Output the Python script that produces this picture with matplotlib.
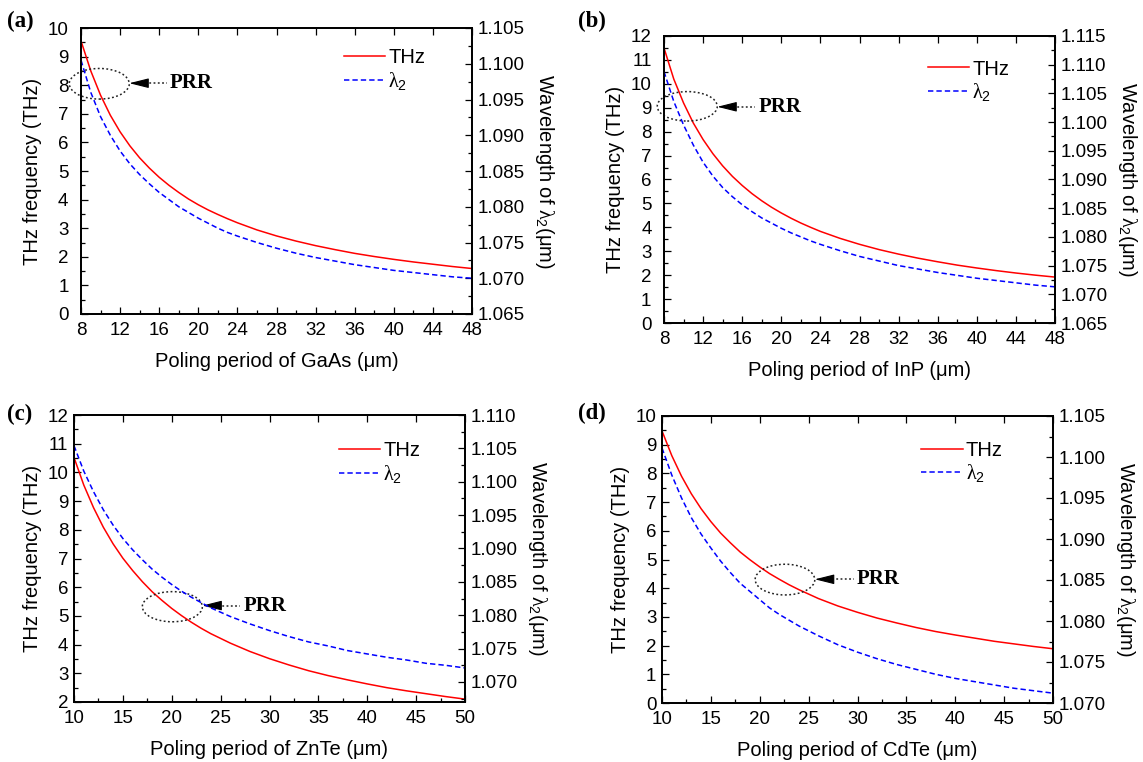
import matplotlib
matplotlib.use('Agg')
import matplotlib.pyplot as plt
from matplotlib.patches import Ellipse
from matplotlib.ticker import MultipleLocator, AutoMinorLocator, FormatStrFormatter

plt.rcParams['font.family'] = ['Liberation Sans', 'DejaVu Sans']
plt.rcParams['mathtext.fontset'] = 'custom'
plt.rcParams['mathtext.rm'] = 'Liberation Sans'
plt.rcParams['mathtext.it'] = 'Liberation Serif'
plt.rcParams['mathtext.bf'] = 'Liberation Sans:bold'

# ---------------- data ----------------
period_ab = [8, 9, 10, 11, 12, 13, 14, 15, 16, 17, 18, 19, 20, 21, 22, 23, 24,
             26, 28, 30, 32, 34, 36, 38, 40, 42, 44, 46, 48]
gaas_thz = [9.55, 8.50, 7.65, 6.95, 6.37, 5.88, 5.46, 5.10, 4.78, 4.50, 4.25, 4.02, 3.82, 3.64,
            3.48, 3.33, 3.19,
            2.94, 2.73, 2.55, 2.39, 2.25, 2.12, 2.01, 1.91, 1.82, 1.74, 1.66, 1.59]
gaas_lambda2 = [1.1005, 1.0960, 1.0926, 1.0900, 1.0878, 1.0860, 1.0845, 1.0832, 1.0820, 1.0810,
                1.0800, 1.0792, 1.0784, 1.0777, 1.0770, 1.0764, 1.0759,
                1.0750, 1.0742, 1.0735, 1.0729, 1.0724, 1.0719, 1.0715, 1.0711, 1.0708,
                1.0705, 1.0702, 1.0700]
inp_thz = [11.5, 10.2, 9.2, 8.36, 7.67, 7.08, 6.57, 6.13, 5.75, 5.41, 5.11, 4.84, 4.60, 4.38,
           4.18, 4.00, 3.83,
           3.54, 3.29, 3.07, 2.88, 2.71, 2.56, 2.42, 2.30, 2.19, 2.09, 2.00, 1.92]
inp_lambda2 = [1.1088, 1.1036, 1.0995, 1.0960, 1.0930, 1.0906, 1.0886, 1.0870, 1.0856, 1.0844,
               1.0833, 1.0824, 1.0815, 1.0807, 1.0800, 1.0793, 1.0787,
               1.0776, 1.0766, 1.0758, 1.0750, 1.0744, 1.0738, 1.0733, 1.0728, 1.0724,
               1.0720, 1.0716, 1.0713]

period_cd = [10, 11, 12, 13, 14, 15, 16, 17, 18, 19, 20, 21, 22, 23, 24,
             26, 28, 30, 32, 34, 36, 38, 40, 42, 44, 46, 48, 50]
znte_thz = [10.52, 9.56, 8.77, 8.09, 7.51, 7.01, 6.58, 6.19, 5.84, 5.54, 5.26, 5.01, 4.78, 4.57,
            4.38,
            4.05, 3.76, 3.51, 3.29, 3.09, 2.92, 2.77, 2.63, 2.50, 2.39, 2.29, 2.19, 2.10]
znte_lambda2 = [1.1054, 1.1016, 1.0985, 1.0958, 1.0935, 1.0915, 1.0898, 1.0883, 1.0869, 1.0857,
                1.0846, 1.0836, 1.0827, 1.0819, 1.0811,
                1.0798, 1.0787, 1.0777, 1.0768, 1.0760, 1.0754, 1.0747, 1.0742, 1.0737,
                1.0733, 1.0728, 1.0725, 1.0721]
cdte_thz = [9.48, 8.62, 7.90, 7.29, 6.77, 6.32, 5.92, 5.58, 5.26, 4.99, 4.74, 4.51, 4.31, 4.12,
            3.95,
            3.64, 3.38, 3.16, 2.96, 2.79, 2.63, 2.49, 2.37, 2.26, 2.15, 2.06, 1.97, 1.89]
cdte_lambda2 = [1.1011, 1.0978, 1.0950, 1.0926, 1.0906, 1.0889, 1.0873, 1.0859, 1.0846, 1.0836,
                1.0826, 1.0816, 1.0808, 1.0801, 1.0794,
                1.0782, 1.0771, 1.0762, 1.0754, 1.0747, 1.0741, 1.0735, 1.0730, 1.0726,
                1.0722, 1.0718, 1.0715, 1.0712]

materials = ['GaAs', 'InP', 'ZnTe', 'CdTe']
panel_tags = ['(a)', '(b)', '(c)', '(d)']
legend_labels = ['THz', r'$\lambda_2$']
left_label = 'THz frequency (THz)'
right_label = r'Wavelength of $\lambda_2$(μm)'
annot_text = 'PRR'

W, H = 1143, 762
FS = 13.5
LFS = 14.5

panels = [
    dict(x=period_ab, thz=gaas_thz, lam=gaas_lambda2, rect=(81, 28, 472, 314),
         xlim=(8, 48), xstep=4, ylim=(0, 10), rlim=(1.065, 1.105),
         leg=(0.673, 0.929), ell=(9.87, 8.05, 6.14, 1.07), arr=(8.07, 12.94, 14.55, 16.83, 17.1),
         tag=(7, 11), lpad=9),
    dict(x=period_ab, thz=inp_thz, lam=inp_lambda2, rect=(664, 36, 1055, 323),
         xlim=(8, 48), xstep=4, ylim=(0, 12), rlim=(1.065, 1.115),
         leg=(0.675, 0.918), ell=(10.38, 9.06, 6.14, 1.23), arr=(9.04, 13.45, 15.09, 17.31, 17.65),
         tag=(578, 11), lpad=9),
    dict(x=period_cd, thz=znte_thz, lam=znte_lambda2, rect=(74, 415, 465, 702),
         xlim=(10, 50), xstep=5, ylim=(2, 12), rlim=(1.067, 1.110),
         leg=(0.677, 0.908), ell=(20.06, 5.32, 6.14, 1.05), arr=(5.36, 23.13, 24.76, 26.98, 27.32),
         tag=(7, 404), lpad=4),
    dict(x=period_cd, thz=cdte_thz, lam=cdte_lambda2, rect=(662, 416, 1053, 703),
         xlim=(10, 50), xstep=5, ylim=(0, 10), rlim=(1.070, 1.105),
         leg=(0.663, 0.914), ell=(22.58, 4.30, 6.1, 1.07), arr=(4.31, 25.63, 27.39, 29.63, 29.9),
         tag=(578, 403), lpad=4),
]

fig = plt.figure(figsize=(W / 100, H / 100), dpi=100)

for i, p in enumerate(panels):
    x0, y0, x1, y1 = p['rect']
    ax = fig.add_axes([x0 / W, 1 - y1 / H, (x1 - x0) / W, (y1 - y0) / H])
    ax2 = ax.twinx()
    l1, = ax.plot(p['x'], p['thz'], color='#ff0000', lw=1.1, solid_joinstyle='round')
    l2, = ax2.plot(p['x'], p['lam'], color='#0000ff', lw=1.1, dashes=(3.5, 2.0))

    ax.set_xlim(*p['xlim'])
    ax.set_ylim(*p['ylim'])
    ax2.set_ylim(*p['rlim'])
    ax.xaxis.set_major_locator(MultipleLocator(p['xstep']))
    ax.xaxis.set_minor_locator(AutoMinorLocator(2))
    ax.yaxis.set_major_locator(MultipleLocator(1))
    ax.yaxis.set_minor_locator(AutoMinorLocator(2))
    ax2.yaxis.set_major_locator(MultipleLocator(0.005))
    ax2.yaxis.set_minor_locator(AutoMinorLocator(2))
    ax2.yaxis.set_major_formatter(FormatStrFormatter('%.3f'))

    ax.tick_params(axis='both', which='both', direction='in', labelsize=FS, width=0.9)
    ax.tick_params(axis='x', which='major', top=True, length=5, pad=6)
    ax.tick_params(axis='x', which='minor', top=False, length=3)
    ax.tick_params(axis='y', which='major', right=False, length=5, pad=p['lpad'])
    ax.tick_params(axis='y', which='minor', right=False, length=3)
    ax2.tick_params(axis='y', which='both', direction='in', labelsize=FS, width=0.9, pad=4)
    ax2.tick_params(axis='y', which='major', length=5)
    ax2.tick_params(axis='y', which='minor', length=3)
    for a in (ax, ax2):
        for s in a.spines.values():
            s.set_linewidth(1.3)

    ax.set_xlabel(f'Poling period of {materials[i]} (μm)', fontsize=LFS, labelpad=9)
    ax.set_ylabel(left_label, fontsize=LFS, labelpad=4)
    ax2.set_ylabel(right_label, fontsize=LFS, rotation=270, va='bottom', labelpad=6)

    ax2.legend([l1, l2], legend_labels, loc='upper left', bbox_to_anchor=p['leg'],
               frameon=False, borderpad=0, borderaxespad=0, handlelength=2.05,
               handletextpad=0.15, labelspacing=0.12, fontsize=LFS)

    ex, ey, ew, eh = p['ell']
    ax.add_patch(Ellipse((ex, ey), ew, eh, fill=False, ls=(0, (1.2, 1.6)), lw=1.1,
                         edgecolor='#222222', clip_on=False, zorder=5))
    ay, tip, base, dend, tx = p['arr']
    ax.annotate('', xy=(tip, ay), xytext=(base, ay), annotation_clip=False,
                arrowprops=dict(arrowstyle='-|>,head_length=0.6,head_width=0.15',
                                mutation_scale=20, color='black', lw=0.8,
                                shrinkA=0, shrinkB=0))
    ax.plot([base, dend], [ay, ay], ls=(0, (1.2, 1.6)), color='#222222', lw=1.1, clip_on=False)
    ax.text(tx, ay, annot_text, va='center', ha='left', fontsize=15,
            fontfamily='Liberation Serif', fontweight='bold')

    tx0, ty0 = p['tag']
    fig.text(tx0 / W, 1 - ty0 / H, panel_tags[i], ha='left', va='top', fontsize=16.5,
             fontfamily='Liberation Serif', fontweight='bold')

fig.savefig('out.png', dpi=100)
